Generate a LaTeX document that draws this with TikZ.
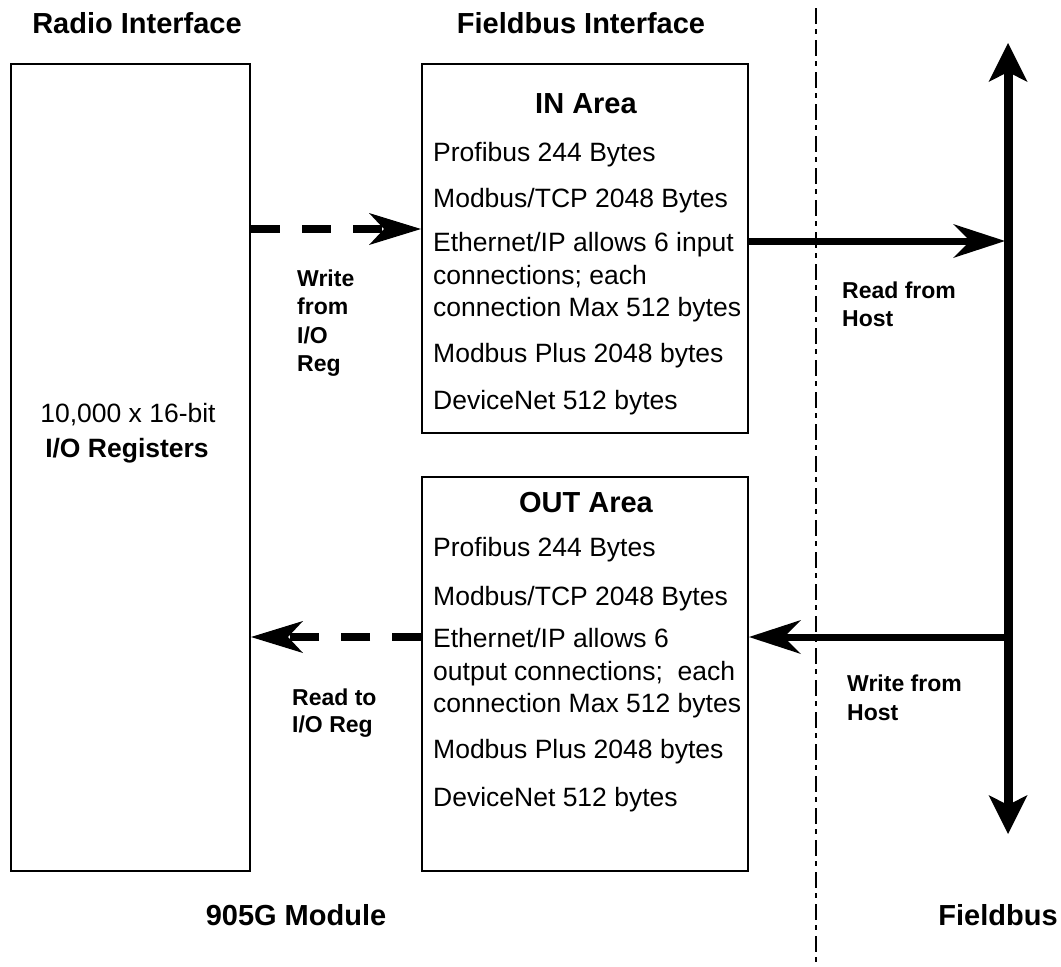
\documentclass[tikz,border=0pt]{standalone}
\usepackage{fontspec}
\setmainfont{Liberation Sans}
\usetikzlibrary{arrows.meta}
\begin{document}
\begin{tikzpicture}[x=1pt,y=-1pt,
  body/.style={font=\fontsize{26.5}{30}\selectfont, inner sep=0pt, anchor=base west},
  bodyc/.style={font=\fontsize{26.5}{30}\selectfont, inner sep=0pt, anchor=base},
  head/.style={font=\bfseries\fontsize{29}{33}\selectfont, inner sep=0pt, anchor=base},
  lab/.style={font=\bfseries\fontsize{23}{27}\selectfont, inner sep=0pt, anchor=base west},
  frame/.style={draw, line width=2pt, inner sep=0pt},
  dasharrow/.style={line width=8pt, dash pattern=on 29pt off 22pt,
     -{Stealth[length=52pt,width=32pt,inset=15pt,line width=0pt]}},
  solidarrow/.style={line width=7pt,
     -{Stealth[length=52pt,width=34pt,inset=17pt,line width=0pt]}},
  busline/.style={line width=9pt,
     {Stealth[length=39pt,width=39pt,inset=10pt,line width=0pt]}-{Stealth[length=39pt,width=39pt,inset=10pt,line width=0pt]}},
  sepline/.style={line width=2pt, dash pattern=on 16pt off 5pt on 5pt off 6pt}
]
\useasboundingbox[fill=white] (0,0) rectangle (1061,967);

% boxes
\node[frame, minimum width=239pt, minimum height=807pt] (reg) at (130.5,467.5) {};
\node[frame, minimum width=326pt, minimum height=369pt] (inbox) at (585,248.5) {};
\node[frame, minimum width=326pt, minimum height=394pt] (outbox) at (585,674) {};

% headings
\node[head] (hradio) at (137,33.4) {Radio Interface};
\node[head] (hfield) at (581,33.4) {Fieldbus Interface};
\node[head] (hmod) at (296,925) {905G Module};
\node[head] (hbus) at (998,925) {Fieldbus};

% register text
\node[bodyc] (r1) at (128,422.5) {10,000 x 16-bit};
\node[bodyc, font=\bfseries\fontsize{26.5}{30}\selectfont] (r2) at (127,457.5) {I/O Registers};

% IN area
\node[head] (inhead) at (586,113) {IN Area};
\node[body] (in1) at (433,161.5) {Profibus 244 Bytes};
\node[body] (in2) at (433,207.5) {Modbus/TCP 2048 Bytes};
\node[body] (in3a) at (433,251.5) {Ethernet/IP allows 6 input};
\node[body] (in3b) at (433,284) {connections; each};
\node[body] (in3c) at (433,316.5) {connection Max 512 bytes};
\node[body] (in4) at (433,362.5) {Modbus Plus 2048 bytes};
\node[body] (in5) at (433,409.5) {DeviceNet 512 bytes};

% OUT area
\node[head] (outhead) at (586,512) {OUT Area};
\node[body] (out1) at (433,556.5) {Profibus 244 Bytes};
\node[body] (out2) at (433,605.5) {Modbus/TCP 2048 Bytes};
\node[body] (out3a) at (433,647.5) {Ethernet/IP allows 6};
\node[body] (out3b) at (433,680) {output connections;\ \ each};
\node[body] (out3c) at (433,712.5) {connection Max 512 bytes};
\node[body] (out4) at (433,758.5) {Modbus Plus 2048 bytes};
\node[body] (out5) at (433,806.5) {DeviceNet 512 bytes};

% arrow labels
\node[lab] (w1) at (297,286) {Write};
\node[lab] (w2) at (297,314.5) {from};
\node[lab] (w3) at (297,343) {I/O};
\node[lab] (w4) at (297,371.5) {Reg};
\node[lab] (rh1) at (842,298) {Read from};
\node[lab] (rh2) at (842,326) {Host};
\node[lab] (rt1) at (292,705) {Read to};
\node[lab] (rt2) at (292,732.5) {I/O Reg};
\node[lab] (wh1) at (847,691) {Write from};
\node[lab] (wh2) at (847,720) {Host};

% separator
\coordinate (sepTop) at (816,8);
\coordinate (sepBot) at (816,967);
\draw[sepline] (sepTop) -- (sepBot);

% fieldbus
\coordinate (busTop) at (1008,43);
\coordinate (busBot) at (1008,834);
\draw[busline] (busBot) -- (busTop);

% connectors
\draw[dasharrow] (reg.east |- 0,229) -- (inbox.west |- 0,229);
\draw[solidarrow] (inbox.east |- 0,241) -- ([xshift=-3pt]busTop |- 0,241);
\draw[solidarrow] (busTop |- 0,637) -- (outbox.east |- 0,637);
\draw[dasharrow] (outbox.west |- 0,637) -- (reg.east |- 0,637);
\end{tikzpicture}
\end{document}
